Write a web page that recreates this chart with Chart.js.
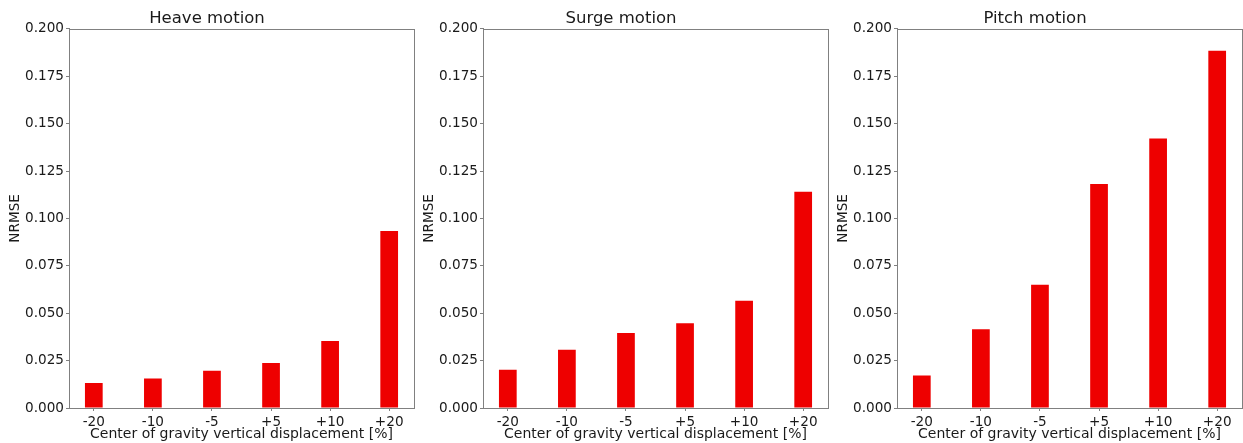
<!DOCTYPE html>
<html>
<head>
<meta charset="utf-8">
<script src="https://cdn.jsdelivr.net/npm/chart.js@4/dist/chart.umd.min.js"></script>
<style>
  html, body { margin: 0; padding: 0; background: #fff; overflow: hidden; }
  .panel { position: absolute; top: 0; width: 416px; height: 443px; }
</style>
</head>
<body>
<div class="panel" style="left:0px"><canvas id="heave"></canvas></div>
<div class="panel" style="left:414px"><canvas id="surge"></canvas></div>
<div class="panel" style="left:828px"><canvas id="pitch"></canvas></div>
<script>
// datos
const categorias = ['-20', '-10', '-5', '+5', '+10', '+20'];
const heave = [0.0132, 0.0156, 0.0196, 0.0237, 0.0354, 0.0933];
const surge = [0.0202, 0.0307, 0.0395, 0.0447, 0.0566, 0.1140];
const pitch = [0.0172, 0.0416, 0.0650, 0.1182, 0.1421, 0.1884];
const yTicks = [0, 0.025, 0.05, 0.075, 0.1, 0.125, 0.15, 0.175, 0.2];

const FONT = 'DejaVu Sans';
const TEXT = '#1a1a1a';
const SPINE = '#808080';

// dibuja el marco completo alrededor del área del gráfico
const marco = {
    id: 'marco',
    afterDraw(chart) {
        const a = chart.chartArea;
        const ctx = chart.ctx;
        ctx.save();
        ctx.strokeStyle = SPINE;
        ctx.lineWidth = 1;
        ctx.strokeRect(Math.round(a.left) + 0.5, Math.round(a.top) + 0.5,
            Math.round(a.right - a.left), Math.round(a.bottom - a.top));
        ctx.restore();
    }
};

function crearGrafico(id, titulo, valores) {
    const ctx = document.getElementById(id).getContext('2d');
    return new Chart(ctx, {
        type: 'bar',
        data: {
            datasets: [{
                data: valores.map((v, i) => ({ x: i, y: v })),
                backgroundColor: '#ee0000',
                borderWidth: 0,
                barPercentage: 0.3,
                categoryPercentage: 1.0
            }]
        },
        options: {
            responsive: true,
            maintainAspectRatio: false,
            animation: false,
            layout: { padding: { left: 0, right: 2, top: 0, bottom: 0 } },
            plugins: {
                legend: { display: false },
                tooltip: { enabled: false },
                title: {
                    display: true,
                    text: titulo,
                    color: TEXT,
                    font: { family: FONT, size: 16.5, weight: 'normal' },
                    padding: { top: 9, bottom: 0 }
                }
            },
            scales: {
                x: {
                    type: 'linear',
                    offset: false,
                    min: -0.42,
                    max: 5.42,
                    afterBuildTicks: s => { s.ticks = categorias.map((c, i) => ({ value: i })); },
                    afterFit: s => { s.height = 35; },
                    ticks: {
                        callback: v => categorias[v],
                        color: TEXT,
                        font: { family: FONT, size: 13.6 },
                        padding: 3,
                        maxRotation: 0,
                        autoSkip: false
                    },
                    grid: { offset: false, drawOnChartArea: false, tickLength: 3, color: SPINE },
                    border: { display: true, color: SPINE },
                    title: {
                        display: true,
                        text: 'Center of gravity vertical displacement [%]',
                        color: TEXT,
                        font: { family: FONT, size: 14 },
                        padding: 0
                    }
                },
                y: {
                    min: 0,
                    max: 0.2,
                    afterBuildTicks: s => { s.ticks = yTicks.map(v => ({ value: v })); },
                    afterFit: s => { s.width = 69; },
                    ticks: {
                        callback: v => v.toFixed(3),
                        color: TEXT,
                        font: { family: FONT, size: 13.6 },
                        padding: 2
                    },
                    grid: { drawOnChartArea: false, tickLength: 3, color: SPINE },
                    border: { display: true, color: SPINE },
                    title: {
                        display: true,
                        text: 'NRMSE',
                        color: TEXT,
                        font: { family: FONT, size: 13.6 },
                        padding: { top: 7, bottom: 0 }
                    }
                }
            }
        },
        plugins: [marco]
    });
}

crearGrafico('heave', 'Heave motion', heave);
crearGrafico('surge', 'Surge motion', surge);
crearGrafico('pitch', 'Pitch motion', pitch);
</script>
</body>
</html>
